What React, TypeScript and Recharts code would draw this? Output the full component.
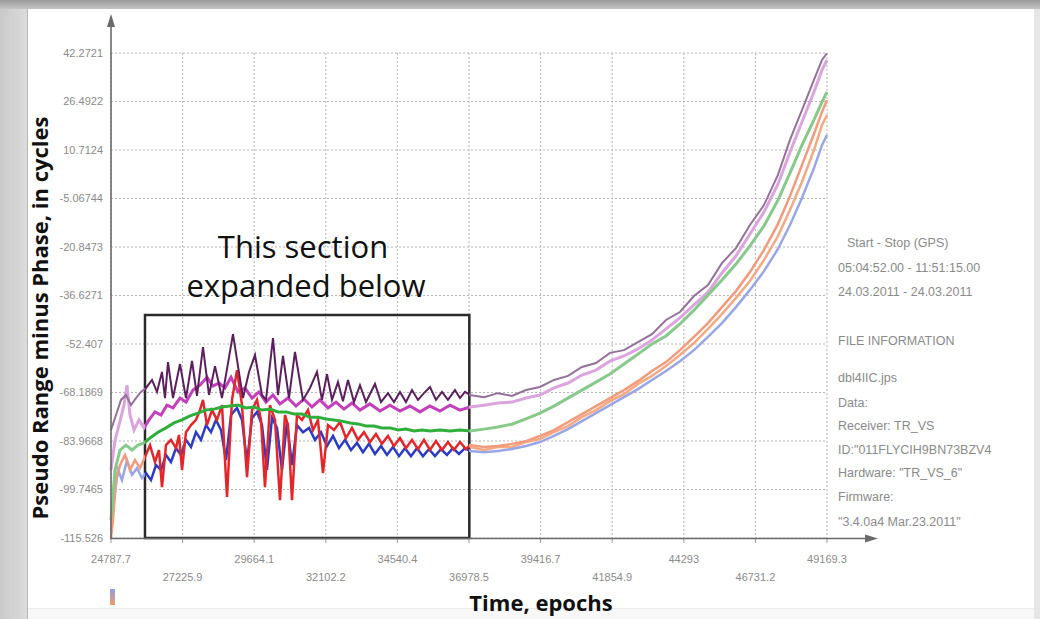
import React from 'react';
import { LineChart, Line, XAxis, YAxis, CartesianGrid, ReferenceArea } from 'recharts';

// axis ticks as printed on the plot
const xTicks = [24787.7, 27225.9, 29664.1, 32102.2, 34540.4, 36978.5, 39416.7, 41854.9, 44293, 46731.2, 49169.3];
const yTicks = [-115.526, -99.7465, -83.9668, -68.1869, -52.407, -36.6271, -20.8473, -5.06744, 10.7124, 26.4922, 42.2721];

// highlighted section (epochs / cycles)
const boxEpochs = [25945, 36990];
const boxCycles = [-115.526, -43.0];

// [epoch, cycles]
const darkPurple: [number, number][] = [
    [24788, -80.4], [24958, -75.5], [25128, -70.6], [25298, -69.0], [25469, -72.3], [25639, -70.0], [25809, -68.0],
    [25979, -66.7], [26184, -64.1], [26354, -68.0], [26524, -61.5], [26626, -70.0], [26728, -58.3], [26899, -70.0],
    [27137, -58.9], [27341, -70.0], [27546, -57.9], [27716, -69.3], [27920, -53.4], [28125, -69.0], [28329, -59.6],
    [28567, -70.0], [28942, -49.2], [29282, -70.0], [29487, -61.5], [29691, -56.0], [29929, -69.0], [30065, -70.6],
    [30304, -50.5], [30474, -69.0], [30644, -56.3], [30849, -70.0], [31053, -55.0], [31325, -70.6], [31564, -66.7],
    [31802, -61.5], [31972, -70.6], [32143, -62.2], [32313, -70.6], [32517, -64.8], [32687, -71.0], [32858, -64.1],
    [33062, -71.3], [33266, -65.8], [33470, -71.3], [33777, -65.4], [33981, -71.3], [34219, -68.4], [34424, -71.3],
    [34628, -68.0], [34832, -71.3], [35037, -67.4], [35241, -70.6], [35445, -68.4], [35650, -66.4], [35854, -70.6],
    [36058, -68.0], [36262, -70.6], [36501, -67.4], [36671, -70.0], [36841, -68.0], [37012, -69.0],
    [37488, -69.7], [37965, -68.4], [38442, -69.3], [38918, -67.4], [39395, -66.4], [39872, -64.1], [40349, -62.8],
    [40825, -59.9], [41302, -58.6], [41779, -55.3], [42255, -54.4], [42732, -51.8], [43209, -49.2], [43686, -44.6],
    [44162, -42.0], [44639, -36.8], [45116, -33.2], [45592, -26.1], [46069, -21.2], [46546, -13.7], [47023, -7.2],
    [47499, 2.6], [47908, 14.0], [48316, 23.7], [48725, 33.5], [48998, 40.0], [49169.3, 42.2],
];

const magenta: [number, number][] = [
    [24788, -93.4], [24924, -83.7], [25060, -78.8], [25230, -72.3], [25332, -65.8], [25435, -75.5], [25571, -80.4],
    [25741, -77.1], [25911, -79.7], [26082, -77.1], [26286, -74.5], [26490, -75.5], [26694, -72.3], [26899, -73.2],
    [27137, -70.0], [27341, -71.3], [27580, -67.4], [27818, -65.8], [28056, -63.2], [28261, -66.1], [28465, -65.1],
    [28669, -66.7], [28874, -63.2], [29112, -68.0], [29350, -66.7], [29589, -70.0], [29827, -68.0], [30065, -71.3],
    [30304, -69.0], [30542, -71.9], [30814, -70.0], [31087, -72.6], [31359, -70.3], [31632, -72.9], [31904, -70.6],
    [32177, -73.2], [32449, -71.3], [32721, -73.6], [32994, -71.6], [33266, -73.9], [33607, -71.9], [33947, -74.2],
    [34288, -72.3], [34628, -74.2], [34968, -72.6], [35309, -74.5], [35650, -72.6], [35990, -74.2], [36331, -72.3],
    [36671, -73.9], [37012, -72.9],
    [37488, -72.3], [37965, -71.6], [38442, -71.3], [38918, -70.0], [39395, -69.0], [39872, -66.7], [40349, -65.1],
    [40825, -62.5], [41302, -60.9], [41779, -58.0], [42255, -56.3], [42732, -54.0], [43209, -51.1], [43686, -47.5],
    [44162, -43.9], [44639, -39.7], [45116, -35.5], [45592, -29.3], [46069, -23.8], [46546, -16.6], [47023, -9.5],
    [47499, -0.4], [47908, 10.0], [48316, 19.8], [48725, 29.6], [48998, 36.7], [49169.3, 40.0],
];

const green: [number, number][] = [
    [24788, -109.7], [24924, -93.4], [25094, -86.9], [25298, -85.3], [25503, -86.9], [25707, -85.3], [25911, -84.6],
    [26116, -83.0], [26388, -81.1], [26660, -79.7], [26933, -78.1], [27206, -77.1], [27478, -75.8], [27750, -74.9],
    [28023, -73.9], [28295, -73.6], [28567, -72.9], [28840, -72.6], [29112, -72.3], [29385, -73.2], [29657, -72.9],
    [29929, -73.9], [30201, -73.6], [30474, -74.5], [30746, -74.5], [31019, -75.2], [31291, -75.2], [31564, -76.2],
    [31836, -76.2], [32108, -76.8], [32381, -77.1], [32653, -77.5], [32926, -78.1], [33198, -78.4], [33470, -79.1],
    [33743, -79.1], [34015, -79.7], [34288, -79.7], [34560, -80.4], [34832, -80.1], [35105, -80.7], [35377, -80.4],
    [35650, -80.7], [35990, -80.4], [36331, -80.7], [36671, -80.4], [37012, -80.7],
    [37488, -80.1], [37965, -79.4], [38442, -78.5], [38918, -76.8], [39395, -74.9], [39872, -72.6], [40349, -70.0],
    [40825, -67.4], [41302, -64.8], [41779, -62.2], [42255, -58.9], [42732, -55.7], [43209, -52.4], [43686, -49.8],
    [44162, -45.9], [44639, -41.4], [45116, -36.5], [45592, -31.6], [46069, -26.4], [46546, -20.5], [47023, -14.0],
    [47499, -5.6], [47908, 3.2], [48316, 12.3], [48725, 20.5], [48998, 26.3], [49169.3, 29.6],
];

const red: [number, number][] = [
    [24788, -115.5], [24856, -109.7], [24958, -96.7], [25094, -91.8], [25264, -88.5], [25435, -93.4], [25605, -90.2],
    [25775, -92.8], [25945, -89.2], [26116, -85.3], [26286, -90.8], [26422, -86.9], [26524, -99.0], [26660, -85.3],
    [26831, -83.6], [27001, -86.3], [27103, -82.0], [27206, -93.4], [27341, -81.1], [27512, -78.8], [27682, -77.1],
    [27818, -73.9], [27920, -70.6], [28056, -78.8], [28227, -73.9], [28397, -77.1], [28567, -72.3], [28738, -102.2],
    [28908, -70.6], [29078, -60.9], [29248, -72.3], [29419, -95.7], [29589, -73.9], [29759, -70.6], [29895, -77.1],
    [30031, -99.0], [30201, -72.3], [30372, -77.1], [30542, -103.2], [30712, -75.5], [30815, -78.8], [30951, -103.2],
    [31121, -75.5], [31291, -77.1], [31496, -73.9], [31666, -80.4], [31836, -77.1], [32006, -94.4], [32177, -78.8],
    [32381, -80.4], [32585, -77.8], [32790, -83.0], [32994, -79.7], [33198, -83.6], [33402, -81.1], [33607, -84.3],
    [33811, -81.7], [34015, -84.9], [34219, -82.3], [34424, -85.6], [34628, -83.0], [34832, -86.3], [35037, -83.6],
    [35241, -86.6], [35445, -83.6], [35650, -86.9], [35854, -84.0], [36058, -86.9], [36262, -84.3], [36467, -86.9],
    [36671, -84.3], [36875, -86.6], [37012, -85.3],
    [37488, -85.9], [37965, -85.6], [38442, -84.9], [38918, -84.0], [39395, -82.3], [39872, -80.4], [40349, -77.8],
    [40825, -75.2], [41302, -72.6], [41779, -70.0], [42255, -67.4], [42732, -64.5], [43209, -61.2], [43686, -58.3],
    [44162, -54.4], [44639, -50.1], [45116, -45.6], [45592, -40.4], [46069, -35.2], [46546, -29.0], [47023, -21.8],
    [47499, -13.4], [47908, -4.3], [48316, 5.8], [48725, 15.9], [48998, 23.1], [49169.3, 27.0],
];

const blue: [number, number][] = [
    [24788, -112.9], [24890, -103.2], [25026, -93.4], [25162, -96.7], [25332, -90.2], [25503, -95.0], [25673, -92.8],
    [25843, -96.0], [25979, -94.4], [26150, -96.7], [26320, -91.8], [26490, -93.4], [26660, -88.5], [26831, -90.8],
    [27001, -86.3], [27171, -88.5], [27341, -83.6], [27512, -85.9], [27682, -81.1], [27852, -83.6], [28023, -78.8],
    [28193, -81.1], [28363, -77.1], [28533, -80.4], [28704, -90.2], [28874, -75.5], [29078, -73.2], [29248, -77.1],
    [29419, -90.8], [29589, -76.5], [29759, -74.5], [29929, -78.8], [30099, -93.4], [30270, -76.5], [30440, -79.7],
    [30610, -93.4], [30781, -77.8], [30951, -91.8], [31121, -78.8], [31325, -81.1], [31530, -79.7], [31734, -83.6],
    [31938, -81.1], [32143, -85.6], [32347, -82.3], [32551, -86.3], [32755, -83.6], [32960, -86.9], [33164, -84.6],
    [33368, -87.6], [33572, -84.9], [33777, -88.2], [33981, -85.6], [34185, -88.5], [34390, -85.9], [34594, -88.9],
    [34798, -86.3], [35003, -88.9], [35207, -86.3], [35411, -88.9], [35616, -86.6], [35820, -88.9], [36024, -86.6],
    [36228, -88.5], [36433, -86.3], [36637, -88.2], [36841, -86.3], [37012, -87.2],
    [37488, -87.6], [37965, -87.2], [38442, -86.6], [38918, -85.6], [39395, -84.3], [39872, -82.3], [40349, -80.1],
    [40825, -77.5], [41302, -74.9], [41779, -72.3], [42255, -69.7], [42732, -67.1], [43209, -64.1], [43686, -61.2],
    [44162, -58.0], [44639, -54.4], [45116, -50.1], [45592, -45.6], [46069, -40.4], [46546, -34.8], [47023, -28.7],
    [47499, -21.5], [47908, -13.7], [48316, -4.9], [48725, 4.8], [48998, 12.3], [49169.3, 15.6],
];

const orange: [number, number][] = [
    [37012, -85.9], [37488, -86.9], [37965, -85.9], [38442, -85.9], [38918, -84.3], [39395, -83.3], [39872, -81.1],
    [40349, -79.1], [40825, -76.2], [41302, -73.9], [41779, -71.0], [42255, -68.7], [42732, -65.4], [43209, -62.8],
    [43686, -59.6], [44162, -56.0], [44639, -52.1], [45116, -47.5], [45592, -42.7], [46069, -37.4], [46546, -31.9],
    [47023, -25.1], [47499, -17.3], [47908, -8.8], [48316, 0.3], [48725, 10.7], [48998, 18.8], [49169.3, 22.1],
];

const infoLines = [
    'Start - Stop (GPS)',
    '05:04:52.00 - 11:51:15.00',
    '24.03.2011 - 24.03.2011',
    'FILE INFORMATION',
    'dbl4IIC.jps',
    'Data:',
    'Receiver: TR_VS',
    'ID:"011FLYCIH9BN73BZV4',
    'Hardware: "TR_VS_6"',
    'Firmware:',
    '"3.4.0a4 Mar.23.2011"',
];
const infoY = [247, 272, 296, 345, 382, 407, 430, 454, 477, 501, 526];

const series = [
    { key: 'magenta', data: magenta, inside: '#c43fba', outside: '#dca4de', width: 3 },
    { key: 'orange', data: orange, inside: '#f4a982', outside: '#f4a982', width: 2.5 },
    { key: 'blue', data: blue, inside: '#2b3bc6', outside: '#98a6e6', width: 2.5 },
    { key: 'red', data: red, inside: '#e3262a', outside: '#f29a7c', width: 2.5 },
    { key: 'darkPurple', data: darkPurple, inside: '#5c1f5e', outside: '#94709a', width: 2 },
    { key: 'green', data: green, inside: '#2fae3c', outside: '#86c98a', width: 3 },
];

const X_MIN = xTicks[0];
const X_MAX = xTicks[xTicks.length - 1];

const tickFont = '"Liberation Sans", Arial, sans-serif';
const labelFont = '"Open Sans", "Noto Sans", sans-serif';

const XTick = (props: any) => {
    const { x, y, payload, index } = props;
    return (
        <text x={x} y={y + (index % 2 === 0 ? 18 : 36)} textAnchor="middle" fontSize={11} fill="#8a8a8a" fontFamily={tickFont}>
            {payload.value}
        </text>
    );
};

const App: React.FC = () => {
    const f0 = (boxEpochs[0] - X_MIN) / (X_MAX - X_MIN);
    const f1 = (boxEpochs[1] - X_MIN) / (X_MAX - X_MIN);

    return (
        <div style={{ position: 'absolute', left: 0, top: 0, width: 1040, height: 619, overflow: 'hidden', background: '#ffffff' }}>
            {/* screenshot frame */}
            <div style={{ position: 'absolute', left: 0, top: 0, width: 1040, height: 9, background: 'linear-gradient(#9a9a9a, #c4c4c4)' }} />
            <div style={{ position: 'absolute', left: 0, top: 9, width: 27, height: 610, background: 'linear-gradient(90deg, #c9c9c9, #dcdcdc)', borderRight: '1px solid #b8b8b8' }} />
            <div style={{ position: 'absolute', left: 1034, top: 9, width: 6, height: 610, background: '#e6e6e6' }} />
            <div style={{ position: 'absolute', left: 28, top: 608, width: 1006, height: 11, background: '#f7f7f7', borderTop: '1px solid #ececec' }} />

            <div style={{ position: 'absolute', left: 0, top: 0 }}>
                <LineChart width={1040} height={619} margin={{ top: 53, right: 213, bottom: 51, left: 51 }}>
                    <defs>
                        {series.map((s) => (
                            <linearGradient key={s.key} id={`grad-${s.key}`} x1="0" y1="0" x2="1" y2="0">
                                <stop offset={0} stopColor={s.outside} />
                                <stop offset={f0} stopColor={s.outside} />
                                <stop offset={f0} stopColor={s.inside} />
                                <stop offset={f1} stopColor={s.inside} />
                                <stop offset={f1} stopColor={s.outside} />
                                <stop offset={1} stopColor={s.outside} />
                            </linearGradient>
                        ))}
                    </defs>
                    <CartesianGrid stroke="#b4b4b4" strokeDasharray="2 2" />
                    <XAxis
                        type="number"
                        dataKey="t"
                        domain={[X_MIN, X_MAX]}
                        ticks={xTicks}
                        interval={0}
                        height={30}
                        axisLine={false}
                        tickLine={{ stroke: '#999' }}
                        tickSize={5}
                        tickMargin={2}
                        tick={<XTick />}
                        allowDuplicatedCategory={false}
                    />
                    <YAxis
                        type="number"
                        domain={[yTicks[0], yTicks[yTicks.length - 1]]}
                        ticks={yTicks}
                        interval={0}
                        width={60}
                        axisLine={false}
                        tickLine={false}
                        tickSize={0}
                        tickMargin={8}
                        allowDataOverflow
                        tick={{ fill: '#8a8a8a', fontSize: 11, fontFamily: tickFont }}
                    />
                    {series.map((s) => (
                        <Line
                            key={s.key}
                            data={s.data.map(([t, v]) => ({ t, v }))}
                            dataKey="v"
                            type="linear"
                            stroke={s.key === 'orange' ? s.outside : `url(#grad-${s.key})`}
                            strokeWidth={s.width}
                            dot={false}
                            activeDot={false}
                            isAnimationActive={false}
                        />
                    ))}
                    <ReferenceArea
                        x1={boxEpochs[0]}
                        x2={boxEpochs[1]}
                        y1={boxCycles[0]}
                        y2={boxCycles[1]}
                        fill="none"
                        fillOpacity={0}
                        stroke="#2a2a2a"
                        strokeWidth={2.5}
                        ifOverflow="visible"
                    />
                </LineChart>
            </div>

            <svg width={1040} height={619} style={{ position: 'absolute', left: 0, top: 0, pointerEvents: 'none' }}>
                {/* axes with arrow heads */}
                <line x1={111} y1={539} x2={111} y2={22} stroke="#6a6a6a" strokeWidth={1.6} />
                <polygon points="111,14 107,27 115,27" fill="#6a6a6a" />
                <line x1={110} y1={538.5} x2={870} y2={538.5} stroke="#6a6a6a" strokeWidth={1.6} />
                <polygon points="878,538.5 865,534.5 865,542.5" fill="#6a6a6a" />

                <text
                    transform="translate(48 318) rotate(-90)"
                    textAnchor="middle"
                    fontFamily={labelFont}
                    fontWeight={700}
                    fontSize={22}
                    fill="#111"
                >
                    Pseudo Range minus Phase, in cycles
                </text>
                <text x={541} y={611} textAnchor="middle" fontFamily={labelFont} fontWeight={700} fontSize={22} fill="#111">
                    Time, epochs
                </text>

                <text x={303} y={258} textAnchor="middle" fontFamily={labelFont} fontSize={31} fill="#111">
                    This section
                </text>
                <text x={306} y={297} textAnchor="middle" fontFamily={labelFont} fontSize={31} fill="#111">
                    expanded below
                </text>

                {infoLines.map((line, i) => (
                    <text key={line} x={i === 0 ? 847 : 838} y={infoY[i]} fontFamily={tickFont} fontSize={12.5} fill="#8a8a8a">
                        {line}
                    </text>
                ))}

                {/* small legend swatch under origin */}
                <defs>
                    <linearGradient id="swatch" x1="0" y1="0" x2="0" y2="1">
                        <stop offset={0} stopColor="#8e9ee0" />
                        <stop offset={1} stopColor="#f09a6a" />
                    </linearGradient>
                </defs>
                <rect x={110} y={589} width={5} height={16} fill="url(#swatch)" />
            </svg>
        </div>
    );
};

export default App;
